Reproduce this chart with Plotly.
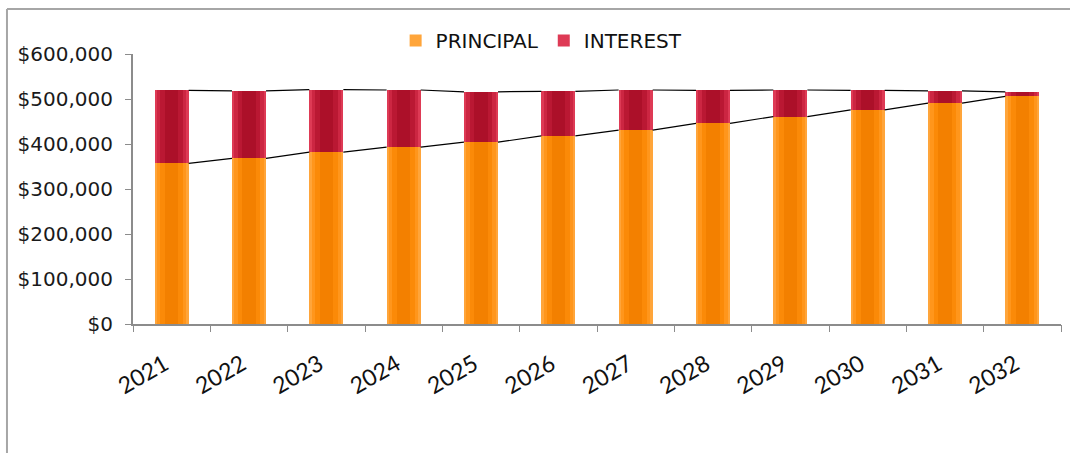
import plotly.graph_objects as go

# Annual loan repayment split
years = ["2021", "2022", "2023", "2024", "2025", "2026",
         "2027", "2028", "2029", "2030", "2031", "2032"]
principal = [357000, 368000, 382000, 393000, 404000, 418000,
             431000, 446000, 461000, 476000, 491000, 506000]
interest = [162000, 150000, 139000, 127000, 112000, 99000,
            89000, 73000, 59000, 43000, 27000, 10000]

y_ticks = [0, 100000, 200000, 300000, 400000, 500000, 600000]
y_labels = ["$0", "$100,000", "$200,000", "$300,000", "$400,000", "$500,000", "$600,000"]

BAR_W = 0.44
xs = list(range(len(years)))
totals = [p + i for p, i in zip(principal, interest)]

# Layered fills give each column a bevelled, shaded look
principal_layers = [(1.00, "#FFA53A"), (0.86, "#FF961C"), (0.66, "#FB8A08"), (0.40, "#F38000")]
interest_layers = [(1.00, "#DE3A55"), (0.86, "#CC2642"), (0.66, "#BA1833"), (0.40, "#AC1029")]

fig = go.Figure()

for k, (frac, col) in enumerate(principal_layers):
    fig.add_trace(go.Bar(
        x=xs, y=principal, base=0, width=BAR_W * frac,
        marker=dict(color=col, line=dict(width=0)),
        name="PRINCIPAL", legendgroup="p", showlegend=(k == 0),
        hoverinfo="skip" if k else None,
    ))
for k, (frac, col) in enumerate(interest_layers):
    fig.add_trace(go.Bar(
        x=xs, y=interest, base=principal, width=BAR_W * frac,
        marker=dict(color=col, line=dict(width=0)),
        name="INTEREST", legendgroup="i", showlegend=(k == 0),
        hoverinfo="skip" if k else None,
    ))

# Series lines joining the tops of neighbouring segments
def series_line(levels):
    lx, ly = [], []
    for j in range(len(levels) - 1):
        lx += [xs[j] + BAR_W / 2, xs[j + 1] - BAR_W / 2, None]
        ly += [levels[j], levels[j + 1], None]
    return lx, ly

for levels in (principal, totals):
    lx, ly = series_line(levels)
    fig.add_trace(go.Scatter(
        x=lx, y=ly, mode="lines", line=dict(color="black", width=1.2),
        showlegend=False, hoverinfo="skip",
    ))

# Category tick marks sit on the boundaries between years
fig.add_trace(go.Scatter(x=[xs[0]], y=[None], xaxis="x2", showlegend=False, hoverinfo="skip"))

axis_grey = "#8C8C8C"
fig.update_layout(
    width=1070, height=453,
    margin=dict(l=133, r=9, t=54, b=129),
    paper_bgcolor="white", plot_bgcolor="white",
    barmode="overlay", bargap=0,
    font=dict(family="DejaVu Sans", color="#1A1A1A"),
    xaxis=dict(
        range=[-0.5, len(years) - 0.5],
        tickmode="array", tickvals=xs, ticktext=years,
        tickangle=-30, ticks="", showgrid=False, zeroline=False,
        showline=True, linecolor=axis_grey, linewidth=2,
        tickfont=dict(family="Lato", size=23, color="#111"),
        ticklabelstandoff=16, ticklabelshift=-7,
    ),
    xaxis2=dict(
        overlaying="x", range=[-0.5, len(years) - 0.5],
        tickmode="array", tickvals=[v - 0.5 for v in xs] + [len(years) - 0.5],
        showticklabels=False, ticks="outside", ticklen=7, tickwidth=1,
        tickcolor=axis_grey, showgrid=False, zeroline=False, showline=False,
        anchor="y", side="bottom",
    ),
    yaxis=dict(
        range=[0, 600000], tickmode="array", tickvals=y_ticks, ticktext=y_labels,
        ticks="outside", ticklen=6, tickcolor=axis_grey,
        showgrid=False, zeroline=False,
        showline=True, linecolor=axis_grey, linewidth=2,
        tickfont=dict(family="DejaVu Sans", size=20, color="#1A1A1A"),
        ticklabelstandoff=8,
    ),
    legend=dict(
        orientation="h", x=0.283, xanchor="left", y=1.05, yanchor="middle",
        font=dict(family="DejaVu Sans", size=20, color="#111"),
        itemwidth=30, tracegroupgap=0, bgcolor="rgba(0,0,0,0)",
    ),
    shapes=[
        # chart frame (left and top edges)
        dict(type="line", xref="paper", yref="paper", x0=-0.1358, x1=-0.1358,
             y0=1.167, y1=-0.48, line=dict(color="#A6A6A6", width=2)),
        dict(type="line", xref="paper", yref="paper", x0=-0.1358, x1=1.02,
             y0=1.167, y1=1.167, line=dict(color="#A6A6A6", width=2)),
    ],
)

fig.write_html("out.html")
